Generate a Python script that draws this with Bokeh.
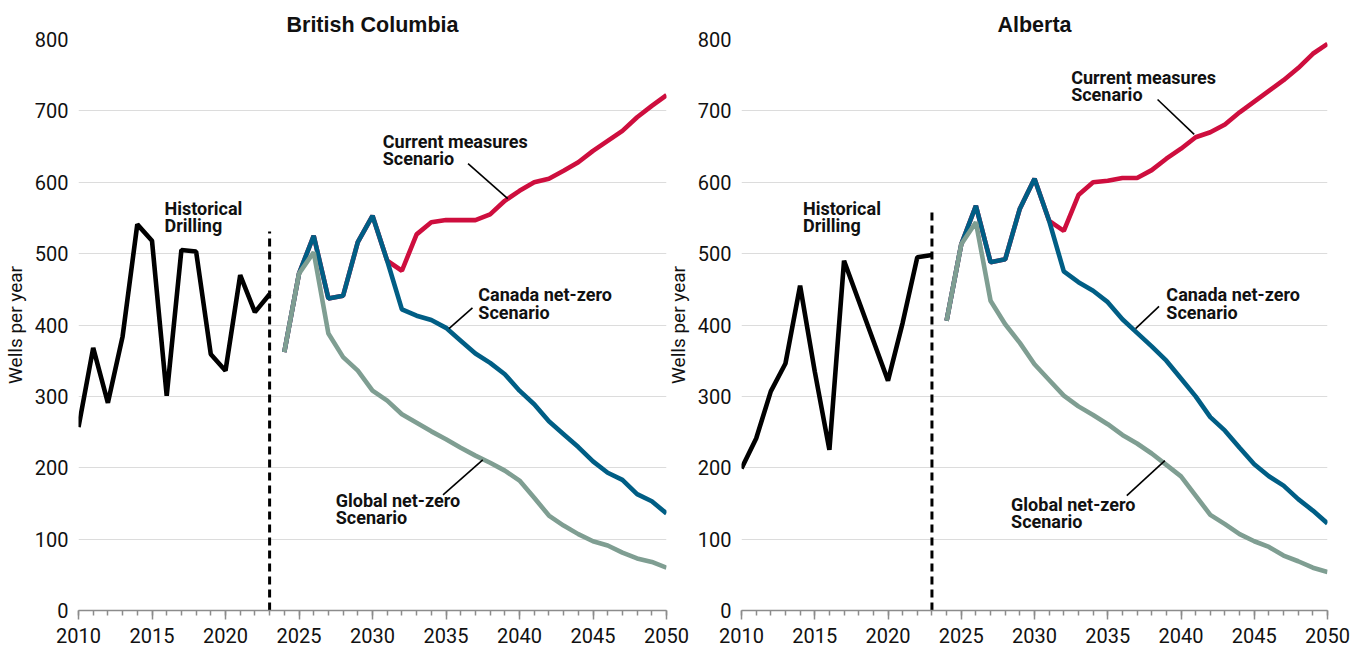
from bokeh.plotting import figure
from bokeh.layouts import row
from bokeh.models import Range1d, FixedTicker
from bokeh.embed import file_html
from bokeh.resources import INLINE
from bokeh.core.properties import value

# ---------------- data ----------------
hist_years = list(range(2010, 2024))
scen_years = list(range(2024, 2051))

bc_hist = [257, 368, 291, 384, 541, 518, 301, 505, 503, 359, 336, 470, 418, 443]
bc_current = [362, 472, 525, 437, 441, 516, 553, 490, 476, 527, 544, 547, 547, 547,
              555, 574, 588, 600, 605, 616, 628, 644, 658, 672, 691, 707, 722]
bc_canada = [362, 472, 525, 437, 441, 516, 553, 490, 422, 413, 407, 396, 378, 360,
             347, 331, 308, 289, 265, 247, 229, 209, 193, 183, 163, 153, 136]
bc_global = [362, 472, 502, 388, 355, 336, 308, 294, 275, 263, 251, 240, 228, 217,
             207, 196, 182, 158, 133, 119, 107, 97, 91, 81, 73, 68, 60]

ab_hist = [199, 241, 307, 346, 455, 335, 225, 490, 434, 378, 322, 403, 495, 498]
ab_current = [406, 513, 567, 488, 492, 563, 605, 546, 532, 582, 600, 602, 606, 606,
              617, 633, 647, 663, 670, 681, 698, 713, 728, 743, 760, 780, 794]
ab_canada = [406, 513, 567, 488, 492, 563, 605, 546, 475, 460, 448, 432, 408, 389,
             370, 350, 325, 300, 271, 252, 228, 205, 188, 175, 156, 140, 122]
ab_global = [406, 513, 544, 434, 401, 375, 345, 323, 301, 286, 274, 261, 246, 234,
             220, 204, 188, 161, 134, 121, 107, 97, 89, 77, 69, 60, 54]

x_ticks = [2010, 2015, 2020, 2025, 2030, 2035, 2040, 2045, 2050]
x_minor = list(range(2010, 2051))
y_ticks = [0, 100, 200, 300, 400, 500, 600, 700, 800]

divider_year = 2023
bc_divider_top = 531
ab_divider_top = 559

label_texts = ["Historical\nDrilling", "Current measures\nScenario",
               "Canada net-zero\nScenario", "Global net-zero\nScenario"]
bc_label_x = [2015.85, 2030.7, 2037.2, 2027.5]
bc_label_y = [578, 672, 457, 169]
ab_label_x = [2014.2, 2032.5, 2039.0, 2028.4]
ab_label_y = [578, 762, 457, 163]

# leader lines (current, canada, global)
bc_lead_x0 = [2036.5, 2036.8, 2034.8]
bc_lead_y0 = [626, 424, 162]
bc_lead_x1 = [2039.2, 2035.2, 2037.5]
bc_lead_y1 = [577, 395, 211]
ab_lead_x0 = [2038.4, 2038.5, 2036.3]
ab_lead_y0 = [716, 426, 161]
ab_lead_x1 = [2040.9, 2036.9, 2038.9]
ab_lead_y1 = [667, 395, 210]

RED = "#CE0E3E"
BLUE = "#005E85"
GREY = "#7F9E92"

TICK_FONT = "Roboto"
LABEL_FONT = "Roboto"


def panel(title, hist, cur, can, glo, div_top, lx, ly, lx0, ly0, lx1, ly1,
          frame_w, border_left, border_right):
    p = figure(frame_width=frame_w, frame_height=571, output_backend="svg",
               toolbar_location=None,
               x_range=Range1d(2010, 2050), y_range=Range1d(0, 800),
               min_border_left=border_left, min_border_right=border_right,
               min_border_top=39, min_border_bottom=41)
    p.title.text = title
    p.title.align = "center"
    p.title.text_font = "Liberation Sans"
    p.title.text_font_style = "bold"
    p.title.text_font_size = "21.5px"
    p.title.text_color = "#111111"
    p.title.standoff = 5
    p.outline_line_color = None

    p.xgrid.grid_line_color = None
    p.ygrid.grid_line_color = "#dcdcdc"
    p.ygrid.grid_line_width = 1.2
    p.ygrid.ticker = FixedTicker(ticks=y_ticks)

    xa = p.xaxis[0]
    xa.ticker = FixedTicker(ticks=x_ticks, minor_ticks=x_minor)
    xa.axis_line_color = "#8c8c8c"
    xa.axis_line_width = 1.5
    xa.major_tick_line_color = "#8c8c8c"
    xa.major_tick_line_width = 1.5
    xa.minor_tick_line_color = "#8c8c8c"
    xa.minor_tick_line_width = 1.5
    xa.major_tick_in = 0
    xa.major_tick_out = 9
    xa.minor_tick_in = 0
    xa.minor_tick_out = 5
    xa.major_label_text_font = TICK_FONT
    xa.major_label_text_font_size = "20px"
    xa.major_label_text_color = "#111111"
    xa.major_label_standoff = 8

    ya = p.yaxis[0]
    ya.ticker = FixedTicker(ticks=y_ticks)
    ya.axis_line_color = None
    ya.major_tick_line_color = None
    ya.minor_tick_line_color = None
    ya.major_tick_in = 0
    ya.major_tick_out = 0
    ya.minor_tick_in = 0
    ya.minor_tick_out = 0
    ya.major_label_text_font = TICK_FONT
    ya.major_label_text_font_size = "20px"
    ya.major_label_text_color = "#111111"
    ya.major_label_standoff = 10
    ya.axis_label = "Wells per year"
    ya.axis_label_text_font = TICK_FONT
    ya.axis_label_text_font_size = "19px"
    ya.axis_label_text_font_style = "normal"
    ya.axis_label_text_color = "#111111"
    ya.axis_label_standoff = 5

    p.segment(x0=[divider_year], y0=[0], x1=[divider_year], y1=[div_top],
              line_color="black", line_width=3, line_dash="8 5")

    p.line(hist_years, hist, line_color="black", line_width=4.6)
    p.line(scen_years, cur, line_color=RED, line_width=4.6)
    p.line(scen_years, can, line_color=BLUE, line_width=4.6)
    p.line(scen_years, glo, line_color=GREY, line_width=4.6)

    p.segment(x0=lx0, y0=ly0, x1=lx1, y1=ly1, line_color="black", line_width=1.6)

    p.text(x=lx, y=ly, text=label_texts, text_font=value(LABEL_FONT),
           text_font_style="bold", text_font_size="18px", text_baseline="top",
           text_align="left", text_line_height=0.82, text_color="#111111")
    return p


p1 = panel("British Columbia", bc_hist, bc_current, bc_canada, bc_global, bc_divider_top,
           bc_label_x, bc_label_y, bc_lead_x0, bc_lead_y0, bc_lead_x1, bc_lead_y1,
           frame_w=588, border_left=78, border_right=24)
p2 = panel("Alberta", ab_hist, ab_current, ab_canada, ab_global, ab_divider_top,
           ab_label_x, ab_label_y, ab_lead_x0, ab_lead_y0, ab_lead_x1, ab_lead_y1,
           frame_w=586, border_left=78, border_right=25)
p2.border_fill_alpha = 0
p2.styles = {"margin-left": "-27px"}

layout = row(p1, p2)
open("out.html", "w").write(file_html(layout, INLINE))
